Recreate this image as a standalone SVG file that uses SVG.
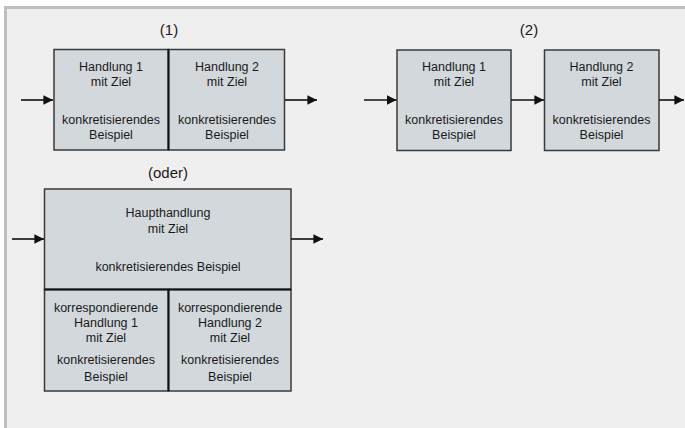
<svg xmlns="http://www.w3.org/2000/svg" width="685" height="428" viewBox="0 0 685 428">
  <style>
    .box { fill: #d3d8dc; stroke: #3a3a3a; stroke-width: 1.5; }
    .div { stroke: #111; stroke-width: 2; fill: none; }
    .t { font-family: "Liberation Sans", Arial, sans-serif; font-size: 12.5px; fill: #1a1a1a; text-anchor: middle; }
    .h { font-family: "Liberation Sans", Arial, sans-serif; font-size: 15px; fill: #1a1a1a; text-anchor: middle; }
    .arr { stroke: #111; stroke-width: 1.6; fill: none; marker-end: url(#ah); }
  </style>
  <defs>
    <marker id="ah" viewBox="0 0 10 10" refX="10" refY="5" markerWidth="6" markerHeight="6" markerUnits="strokeWidth" orient="auto">
      <path d="M0,0 L10,5 L0,10 z" fill="#111"/>
    </marker>
  </defs>

  <!-- page -->
  <rect x="0" y="0" width="685" height="428" fill="#ffffff"/>
  <rect x="4" y="6" width="681" height="422" fill="#bfbfbf"/>
  <rect x="7" y="9" width="678" height="419" fill="#efefef"/>

  <!-- variant (1): two actions joined -->
  <text class="h" x="169" y="35">(1)</text>
  <g id="v1-handlung1">
    <rect class="box" x="54" y="49.5" width="114.5" height="100.5"/>
    <text class="t" x="111" y="71">Handlung 1</text>
    <text class="t" x="111" y="86">mit Ziel</text>
    <text class="t" x="111" y="124">konkretisierendes</text>
    <text class="t" x="111" y="139">Beispiel</text>
  </g>
  <g id="v1-handlung2">
    <rect class="box" x="168.5" y="49.5" width="116" height="100.5"/>
    <text class="t" x="227" y="71">Handlung 2</text>
    <text class="t" x="227" y="86">mit Ziel</text>
    <text class="t" x="227" y="124">konkretisierendes</text>
    <text class="t" x="227" y="139">Beispiel</text>
  </g>
  <line class="div" x1="168.5" y1="49.5" x2="168.5" y2="150"/>

  <!-- variant (2): two actions in sequence -->
  <text class="h" x="529" y="35">(2)</text>
  <g id="v2-handlung1">
    <rect class="box" x="397" y="50" width="114" height="100.5"/>
    <text class="t" x="454" y="71">Handlung 1</text>
    <text class="t" x="454" y="86">mit Ziel</text>
    <text class="t" x="454" y="124">konkretisierendes</text>
    <text class="t" x="454" y="139">Beispiel</text>
  </g>
  <g id="v2-handlung2">
    <rect class="box" x="544.5" y="50" width="114.5" height="100.5"/>
    <text class="t" x="601.5" y="71">Handlung 2</text>
    <text class="t" x="601.5" y="86">mit Ziel</text>
    <text class="t" x="601.5" y="124">konkretisierendes</text>
    <text class="t" x="601.5" y="139">Beispiel</text>
  </g>

  <!-- variant (oder): main action with corresponding sub-actions -->
  <text class="h" x="168" y="178">(oder)</text>
  <g id="haupthandlung">
    <rect class="box" x="44.5" y="189" width="246.5" height="100.5"/>
    <text class="t" x="168" y="217">Haupthandlung</text>
    <text class="t" x="168" y="233">mit Ziel</text>
    <text class="t" x="168" y="271">konkretisierendes Beispiel</text>
  </g>
  <g id="korr-handlung1">
    <rect class="box" x="44.5" y="289.5" width="124" height="101.5"/>
    <text class="t" x="106" y="312">korrespondierende</text>
    <text class="t" x="106" y="327">Handlung 1</text>
    <text class="t" x="106" y="342">mit Ziel</text>
    <text class="t" x="106" y="364">konkretisierendes</text>
    <text class="t" x="106" y="381">Beispiel</text>
  </g>
  <g id="korr-handlung2">
    <rect class="box" x="168.5" y="289.5" width="122.5" height="101.5"/>
    <text class="t" x="230" y="312">korrespondierende</text>
    <text class="t" x="230" y="327">Handlung 2</text>
    <text class="t" x="230" y="342">mit Ziel</text>
    <text class="t" x="230" y="364">konkretisierendes</text>
    <text class="t" x="230" y="381">Beispiel</text>
  </g>
  <line class="div" x1="44.5" y1="289.5" x2="291" y2="289.5"/>
  <line class="div" x1="168.5" y1="289.5" x2="168.5" y2="391"/>

  <!-- connectors -->
  <g id="connectors">
    <line class="arr" x1="21" y1="100" x2="53" y2="100"/>
    <line class="arr" x1="285" y1="100" x2="317" y2="100"/>
    <line class="arr" x1="364" y1="100" x2="396.5" y2="100"/>
    <line class="arr" x1="511" y1="100" x2="544" y2="100"/>
    <line class="arr" x1="659" y1="100" x2="684" y2="100"/>
    <line class="arr" x1="12" y1="239" x2="44" y2="239"/>
    <line class="arr" x1="291" y1="239" x2="323" y2="239"/>
  </g>
</svg>
